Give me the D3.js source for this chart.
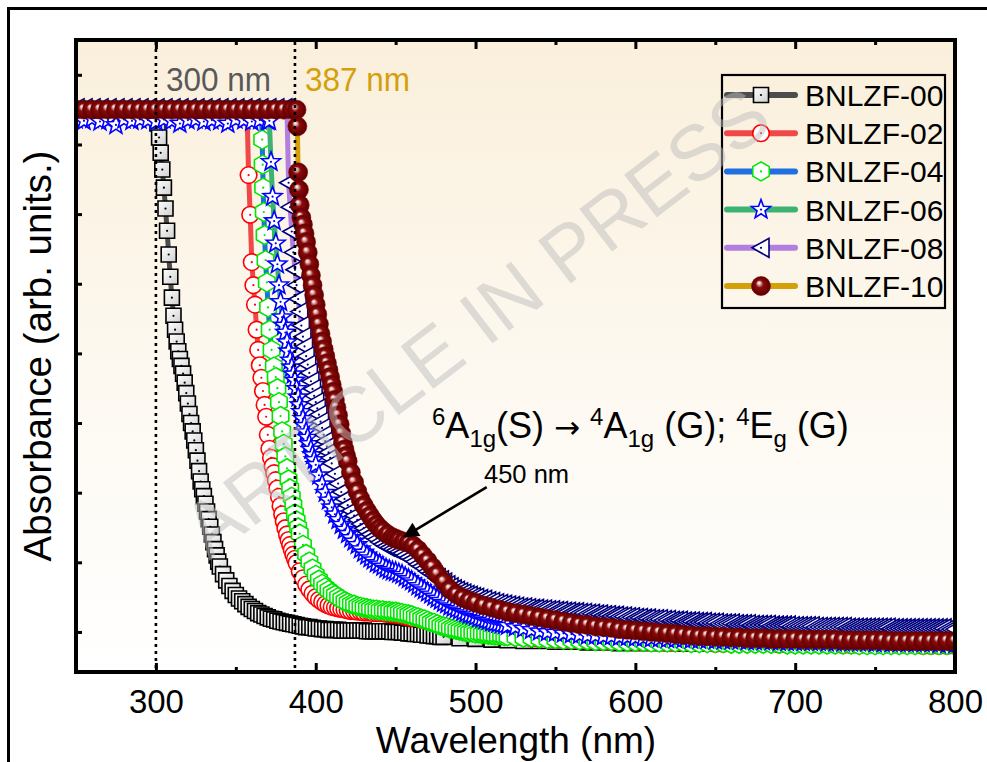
<!DOCTYPE html>
<html>
<head>
<meta charset="utf-8">
<script src="https://cdn.jsdelivr.net/npm/d3@7"></script>
<style>
  body { margin: 0; background: #fff; }
  svg { display: block; font-family: 'Liberation Sans', Arial, sans-serif; }
</style>
</head>
<body>
<svg id="chart" width="987" height="762"></svg>
<script>
'use strict';

// ---- data (wavelength nm, absorbance arb. units) ----
// "Edge" arrays are [nm, A] pairs; "Knee"/"Tail" arrays are A read on a regular nm grid.
var sampleNames = ['BNLZF-00', 'BNLZF-02', 'BNLZF-04', 'BNLZF-06', 'BNLZF-08', 'BNLZF-10'];
var majorTicks = [300, 400, 500, 600, 700, 800];
var minorTicks = [350, 450, 550, 650, 750];
var yTicks = [1, 2, 3, 4, 5, 6, 7, 8, 9];

var bnlzf00Edge = [
    [250,8.5],[255,8.5],[260,8.5],[265,8.5],[270,8.5],[275,8.5],[280,8.5],[285,8.5],[290,8.5],[295,8.5],[299,8.5],
    [300,8.45],[301,8.3],[302,8.1],[303,7.88],[304,7.64],[305,7.38],[306,7.08],[307,6.76],[308,6.42],[309,6.1],
    [310,5.8],[311,5.54],[312,5.34],[313,5.17],[314,5.03],[315,4.92],[316,4.82],[317,4.71],[318,4.58],[319,4.43],
    [320,4.28],[321,4.13],[322,4.0],[323,3.88],[324,3.75],[325,3.61],[326,3.46],[327,3.31],[328,3.16],[329,3.05],
    [330,2.95],[331,2.84],[332,2.73],[333,2.62],[334,2.51],[335,2.4],[336,2.29],[337,2.19],[338,2.1],[339,2.01]
];
var bnlzf00Knee = [ // 340..480 nm, 2 nm
    1.94,1.83,1.74,1.66,1.59,1.53,1.48,1.44,1.40,1.36, 1.33,1.30,1.27,1.25,1.23,1.21,1.19,1.18,1.16,1.15,
    1.14,1.13,1.12,1.11,1.10,1.09,1.08,1.07,1.07,1.06, 1.05,1.05,1.04,1.04,1.03,1.03,1.03,1.03,1.02,1.02,
    1.02,1.02,1.02,1.02,1.02,1.02,1.01,1.01,1.01,1.01, 1.01,1.01,1.01,1.01,1.00,1.00,1.00,0.99,0.99,0.98,
    0.98,0.97,0.97,0.96,0.96,0.95,0.95,0.94,0.94,0.93, 0.93
];
var bnlzf00Tail = [ // 490..800 nm, 10 nm
    0.91,0.90,0.89,0.88,0.87,0.87,0.86,0.86,0.85,0.85, 0.84,0.84,0.84,0.84,0.83,0.83,0.83,0.83,0.83,0.83,
    0.83,0.83,0.82,0.82,0.82,0.82,0.82,0.82,0.82,0.82, 0.82,0.82
];

var bnlzf02Edge = [
    [250,8.5],[255,8.5],[260,8.5],[265,8.5],[270,8.5],[275,8.5],[280,8.5],[285,8.5],[290,8.5],[295,8.5],[300,8.5],
    [305,8.5],[310,8.5],[315,8.5],[320,8.5],[325,8.5],[330,8.5],[335,8.5],[340,8.5],[345,8.5],[350,8.5],[355,8.5],
    [357,8.5],[358,7.56],[359,6.99],[360,6.31],[361,5.98],[362,5.7],[363,5.34],[364,5.05],[365,4.83],[366,4.65],
    [367,4.46],[368,4.26],[369,4.09],[370,3.83],[371,3.63],[372,3.5],[373,3.38],[374,3.28],[375,3.18],[376,3.06],
    [377,2.94],[378,2.81],[379,2.69],[380,2.59],[381,2.49],[382,2.4],[383,2.32],[384,2.25],[385,2.18],[386,2.11],
    [387,2.05],[388,1.99]
];
var bnlzf02Knee = [ // 390..460 nm, 2 nm
    1.87,1.77,1.68,1.61,1.55,1.50,1.46,1.43,1.40,1.38, 1.36,1.35,1.34,1.33,1.32,1.31,1.30,1.30,1.29,1.29,
    1.28,1.28,1.28,1.27,1.27,1.27,1.27,1.26,1.26,1.25, 1.25,1.24,1.23,1.22,1.21,1.20
];
var bnlzf02Tail = [ // 465..800 nm, 5 nm
    1.18,1.15,1.12,1.08,1.05,1.02,1.00,0.98,0.97,0.96, 0.95,0.94,0.93,0.92,0.91,0.90,0.90,0.89,0.89,0.88,
    0.88,0.87,0.87,0.86,0.86,0.86,0.86,0.85,0.85,0.85, 0.85,0.84,0.84,0.84,0.84,0.84,0.84,0.83,0.83,0.83,
    0.83,0.83,0.83,0.83,0.83,0.82,0.82,0.82,0.82,0.82, 0.82,0.82,0.82,0.81,0.81,0.81,0.81,0.81,0.81,0.81,
    0.81,0.81,0.81,0.80,0.80,0.80,0.80,0.80
];

var bnlzf04Edge = [
    [250,8.5],[255,8.5],[260,8.5],[265,8.5],[270,8.5],[275,8.5],[280,8.5],[285,8.5],[290,8.5],[295,8.5],[300,8.5],
    [305,8.5],[310,8.5],[315,8.5],[320,8.5],[325,8.5],[330,8.5],[335,8.5],[340,8.5],[345,8.5],[350,8.5],[355,8.5],
    [360,8.5],[365,8.5],[366,8.5],[366.5,8.07],[366.8,7.71],[367.1,7.38],[367.5,7.03],[368,6.7],[368.6,6.34],
    [369.4,6.02],[370.2,5.66],[371.2,5.34],[372.4,5.05],[373.8,4.81],[375,4.66],[376,4.5],[377,4.3],[378,4.1],
    [379,3.88],[380,3.7],[381,3.52],[382,3.35],[383,3.19],[384,3.06],[385,2.94],[386,2.82],[387,2.7],[388,2.6],
    [389,2.5],[390,2.41]
];
var bnlzf04Knee = [ // 392..520 nm, 2 nm
    2.25,2.12,2.01,1.91,1.82,1.75,1.69,1.64,1.60,1.56, 1.53,1.50,1.47,1.44,1.42,1.40,1.39,1.37,1.36,1.35,
    1.34,1.33,1.32,1.32,1.31,1.31,1.30,1.30,1.29,1.29, 1.28,1.27,1.26,1.25,1.24,1.22,1.21,1.19,1.18,1.16,
    1.14,1.13,1.11,1.09,1.08,1.07,1.05,1.04,1.03,1.02, 1.01,1.00,0.99,0.99,0.98,0.98,0.97,0.97,0.96,0.96,
    0.95,0.95,0.95,0.94,0.94
];
var bnlzf04Tail = [ // 525..800 nm, 5 nm
    0.93,0.92,0.92,0.91,0.90,0.90,0.89,0.89,0.88,0.88, 0.87,0.87,0.87,0.86,0.86,0.86,0.86,0.85,0.85,0.85,
    0.85,0.85,0.84,0.84,0.84,0.84,0.84,0.83,0.83,0.83, 0.83,0.83,0.83,0.83,0.82,0.82,0.82,0.82,0.82,0.82,
    0.82,0.82,0.82,0.81,0.81,0.81,0.81,0.81,0.81,0.81, 0.81,0.81,0.81,0.81,0.81,0.81
];

var bnlzf06Edge = [
    [250,8.36],[255,8.34],[260,8.37],[265,8.33],[270,8.35],[275,8.28],[280,8.36],[285,8.34],[290,8.36],[295,8.35],
    [300,8.33],[305,8.36],[310,8.34],[315,8.3],[320,8.35],[325,8.36],[330,8.33],[335,8.35],[340,8.34],[345,8.3],
    [350,8.36],[355,8.35],[360,8.33],[365,8.35],[370,8.34],[371,8.34],[372,7.75],[373,7.25],[374,6.9],[375,6.58],
    [376,6.28],[377,5.98],[378,5.74],[379,5.52],[380,5.4],[381,5.3],[382,5.16],[383,5.03],[384,4.9],[385,4.8],
    [386,4.7],[387,4.61],[388,4.49],[389,4.37],[390,4.26],[391,4.16],[392,4.06],[393,3.96],[394,3.87],[395,3.79],
    [396,3.7],[397,3.62],[398,3.54],[399,3.47],[400,3.4]
];
var bnlzf06Knee = [ // 402..520 nm, 2 nm
    3.25,3.12,3.00,2.89,2.79,2.69,2.61,2.54,2.47,2.41, 2.35,2.30,2.25,2.19,2.14,2.10,2.06,2.03,1.99,1.97,
    1.94,1.91,1.89,1.87,1.86,1.84,1.82,1.79,1.76,1.73, 1.70,1.66,1.63,1.60,1.57,1.54,1.51,1.48,1.45,1.42,
    1.40,1.37,1.35,1.33,1.31,1.29,1.27,1.25,1.24,1.22, 1.20,1.19,1.17,1.16,1.14,1.13,1.12,1.11,1.10,1.09
];
var bnlzf06Tail = [ // 525..800 nm, 5 nm
    1.07,1.05,1.03,1.01,1.00,0.99,0.98,0.97,0.96,0.95, 0.95,0.94,0.94,0.93,0.93,0.92,0.92,0.91,0.91,0.90,
    0.90,0.90,0.89,0.89,0.89,0.88,0.88,0.88,0.88,0.87, 0.87,0.87,0.87,0.86,0.86,0.86,0.86,0.86,0.86,0.85,
    0.85,0.85,0.85,0.85,0.85,0.84,0.84,0.84,0.84,0.84, 0.84,0.84,0.84,0.83,0.83,0.83
];

var bnlzf08Edge = [
    [250,8.52],[255,8.52],[260,8.52],[265,8.52],[270,8.52],[275,8.52],[280,8.52],[285,8.52],[290,8.52],[295,8.52],
    [300,8.52],[305,8.52],[310,8.52],[315,8.52],[320,8.52],[325,8.52],[330,8.52],[335,8.52],[340,8.52],[345,8.52],
    [350,8.52],[355,8.52],[360,8.52],[365,8.52],[370,8.52],[375,8.52],[380,8.52],[382,8.52],[383,7.45],[384,7.1],
    [385,6.75],[386,6.45],[387,6.2],[388,5.98],[389,5.78],[390,5.6],[391,5.4],[392,5.24],[393,5.1],[394,4.96],
    [395,4.84],[396,4.72],[397,4.6],[398,4.49],[399,4.39],[400,4.3],[401,4.21],[402,4.12],[403,4.02],[404,3.93],
    [405,3.83],[406,3.74],[407,3.66],[408,3.58],[409,3.5],[410,3.42]
];
var bnlzf08Knee = [ // 412..500 nm, 2 nm
    3.27,3.13,3.01,2.91,2.82,2.74,2.67,2.61,2.55,2.49, 2.44,2.40,2.36,2.33,2.29,2.26,2.23,2.21,2.19,2.17,
    2.15,2.13,2.10,2.07,2.04,2.01,1.97,1.94,1.91,1.87, 1.84,1.81,1.77,1.74,1.71,1.67,1.64,1.61,1.59,1.57,
    1.55,1.53,1.52,1.50,1.49
];
var bnlzf08Tail = [ // 502.5..800 nm, 2.5 nm
    1.47,1.46,1.44,1.43,1.41,1.40,1.39,1.38,1.37,1.36, 1.35,1.35,1.34,1.33,1.33,1.32,1.32,1.31,1.31,1.30,
    1.30,1.29,1.29,1.28,1.28,1.27,1.27,1.26,1.26,1.25, 1.25,1.24,1.24,1.23,1.23,1.22,1.22,1.21,1.21,1.20,
    1.20,1.19,1.19,1.18,1.18,1.18,1.17,1.17,1.16,1.16, 1.16,1.15,1.15,1.15,1.14,1.14,1.14,1.13,1.13,1.13,
    1.12,1.12,1.12,1.12,1.11,1.11,1.11,1.11,1.10,1.10, 1.10,1.10,1.10,1.09,1.09,1.09,1.09,1.09,1.08,1.08,
    1.08,1.08,1.08,1.08,1.07,1.07,1.07,1.07,1.07,1.07, 1.07,1.07,1.06,1.06,1.06,1.06,1.06,1.06,1.06,1.06,
    1.06,1.06,1.06,1.05,1.05,1.05,1.05,1.05,1.05,1.05, 1.05,1.05,1.05,1.05,1.05,1.05,1.05,1.04,1.04,1.04
];

var bnlzf10Edge = [
    [250,8.5],[255,8.5],[260,8.5],[265,8.5],[270,8.5],[275,8.5],[280,8.5],[285,8.5],[290,8.5],[295,8.5],[300,8.5],
    [305,8.5],[310,8.5],[315,8.5],[320,8.5],[325,8.5],[330,8.5],[335,8.5],[340,8.5],[345,8.5],[350,8.5],[355,8.5],
    [360,8.5],[365,8.5],[370,8.5],[375,8.5],[380,8.5],[385,8.5],[388,8.5],[388.5,8.26],[389,7.6],[389.5,7.35],
    [390,7.13],[391,6.95],[392,6.85],[393,6.72],[394,6.6],[395,6.45],[396,6.28],[397,6.12],[398,5.98],[399,5.84],
    [400,5.7],[401,5.56],[402,5.42],[403,5.28],[404,5.17],[405,5.06],[406,4.96],[407,4.86],[408,4.76],[409,4.66],
    [410,4.55],[411,4.45],[412,4.33],[413,4.22],[414,4.11],[415,3.98],[416,3.85],[417,3.72],[418,3.62],[419,3.53],
    [420,3.45],[422,3.29],[424,3.15],[426,3.02],[428,2.91],[430,2.82],[432,2.74],[434,2.67],[436,2.6],[438,2.54],
    [440,2.49],[442,2.45],[445,2.4],[448,2.36],[450,2.34],[452,2.32],[455,2.3],[458,2.28],[461,2.24],[464,2.18],
    [467,2.1],[470,2.02],[473,1.93],[476,1.83],[480,1.72],[484,1.61],[488,1.54],[492,1.49],[496,1.45],[500,1.42]
];
var bnlzf10Tail = [ // 505..800 nm, 5 nm
    1.38,1.35,1.32,1.29,1.27,1.25,1.23,1.21,1.19,1.17, 1.15,1.13,1.11,1.10,1.08,1.07,1.06,1.04,1.03,1.02,
    1.01,1.00,0.99,0.98,0.97,0.96,0.95,0.94,0.94,0.93, 0.93,0.92,0.92,0.91,0.91,0.91,0.90,0.90,0.90,0.90,
    0.89,0.89,0.89,0.89,0.89,0.88,0.88,0.88,0.88,0.88, 0.88,0.87,0.87,0.87,0.87,0.87,0.87,0.87,0.87,0.87
];

function onGrid(start, step, values) {
    return values.map(function(v, k) { return [start + step * k, v]; });
}

var seriesData = [
    bnlzf00Edge.concat(onGrid(340, 2, bnlzf00Knee), onGrid(490, 10, bnlzf00Tail)),
    bnlzf02Edge.concat(onGrid(390, 2, bnlzf02Knee), onGrid(465, 5, bnlzf02Tail)),
    bnlzf04Edge.concat(onGrid(392, 2, bnlzf04Knee), onGrid(525, 5, bnlzf04Tail)),
    bnlzf06Edge.concat(onGrid(402, 2, bnlzf06Knee), onGrid(525, 5, bnlzf06Tail)),
    bnlzf08Edge.concat(onGrid(412, 2, bnlzf08Knee), onGrid(502.5, 2.5, bnlzf08Tail)),
    bnlzf10Edge.concat(onGrid(505, 5, bnlzf10Tail))
];

// ---- styles ----
var lineColors = ['#4d4d4d', '#f04848', '#1f6fe0', '#3cb371', '#b27fe0', '#d4a00a'];
var markerColors = ['#000000', '#ff0000', '#00e600', '#0000ff', '#00007f', '#7a0000'];
var markerShapes = ['square', 'circle', 'hexagon', 'star', 'triangle', 'ball'];

var svg = d3.select('#chart');
var x = d3.scaleLinear().domain([250, 800]).range([76, 955]);
var y = d3.scaleLinear().domain([0.425, 9.5]).range([672, 40]);

var defs = svg.append('defs');

var bg = defs.append('linearGradient').attr('id', 'plotBg')
    .attr('x1', 0).attr('y1', 0).attr('x2', 0).attr('y2', 1);
bg.append('stop').attr('offset', '0%').attr('stop-color', '#faefdb');
bg.append('stop').attr('offset', '55%').attr('stop-color', '#fdf9f1');
bg.append('stop').attr('offset', '100%').attr('stop-color', '#ffffff');

var ball = defs.append('radialGradient').attr('id', 'ballGrad')
    .attr('cx', '50%').attr('cy', '50%').attr('r', '50%').attr('fx', '38%').attr('fy', '32%');
ball.append('stop').attr('offset', '0%').attr('stop-color', '#ffffff');
ball.append('stop').attr('offset', '14%').attr('stop-color', '#e6c4c4');
ball.append('stop').attr('offset', '40%').attr('stop-color', '#8e0a0a');
ball.append('stop').attr('offset', '100%').attr('stop-color', '#5a0000');

var sq = defs.append('linearGradient').attr('id', 'squareGrad')
    .attr('x1', 0).attr('y1', 0).attr('x2', 1).attr('y2', 1);
sq.append('stop').attr('offset', '0%').attr('stop-color', '#ffffff');
sq.append('stop').attr('offset', '100%').attr('stop-color', '#cfcfcf');

defs.append('clipPath').attr('id', 'plotClip')
    .append('rect').attr('x', 76).attr('y', 40).attr('width', 879).attr('height', 632);

defs.append('marker').attr('id', 'arrowHead')
    .attr('viewBox', '0 0 10 10').attr('refX', 9).attr('refY', 5)
    .attr('markerWidth', 7).attr('markerHeight', 6).attr('markerUnits', 'strokeWidth')
    .attr('orient', 'auto')
    .append('path').attr('d', 'M0,0L10,5L0,10Z').attr('fill', '#000');

function polygonPath(points) {
    return 'M' + points.map(function(p) { return p[0].toFixed(2) + ',' + p[1].toFixed(2); }).join('L') + 'Z';
}

function shapePath(kind) {
    var pts = [], i, a;
    if(kind === 'square') return 'M-7.5,-7.5H7.5V7.5H-7.5Z';
    if(kind === 'circle') return 'M8.3,0A8.3,8.3 0 1,1 -8.3,0A8.3,8.3 0 1,1 8.3,0Z';
    if(kind === 'ball') return 'M9.5,0A9.5,9.5 0 1,1 -9.5,0A9.5,9.5 0 1,1 9.5,0Z';
    if(kind === 'triangle') return 'M-9,0L8,-9.5L8,9.5Z';
    if(kind === 'hexagon') {
        for(i = 0; i < 6; i++) {
            a = (-90 + 60 * i) * Math.PI / 180;
            pts.push([9.5 * Math.cos(a), 9.5 * Math.sin(a)]);
        }
        return polygonPath(pts);
    }
    // star
    for(i = 0; i < 10; i++) {
        a = (-90 + 36 * i) * Math.PI / 180;
        var r = i % 2 ? 4.2 : 10;
        pts.push([r * Math.cos(a), r * Math.sin(a)]);
    }
    return polygonPath(pts);
}

function drawMarker(sel, i) {
    var kind = markerShapes[i];
    sel.append('path')
        .attr('d', shapePath(kind))
        .attr('fill', kind === 'ball' ? 'url(#ballGrad)' : (kind === 'square' ? 'url(#squareGrad)' : '#ffffff'))
        .attr('stroke', markerColors[i])
        .attr('stroke-width', kind === 'ball' ? 0.6 : 1.6);
    if(kind !== 'ball') {
        sel.append('circle').attr('r', 1.1).attr('fill', markerColors[i]);
    }
}

// ---- frame + background ----
svg.append('rect').attr('x', 8.5).attr('y', 8.5).attr('width', 1000).attr('height', 800)
    .attr('fill', 'none').attr('stroke', '#000').attr('stroke-width', 3);

svg.append('rect').attr('x', 76).attr('y', 40).attr('width', 879).attr('height', 632)
    .attr('fill', 'url(#plotBg)');

// ---- curves ----
var plot = svg.append('g').attr('clip-path', 'url(#plotClip)');
var line = d3.line().x(function(d) { return x(d[0]); }).y(function(d) { return y(d[1]); });

seriesData.forEach(function(data, i) {
    var g = plot.append('g').attr('class', 'series');
    g.append('path').datum(data)
        .attr('d', line)
        .attr('fill', 'none')
        .attr('stroke', lineColors[i])
        .attr('stroke-width', 5)
        .attr('stroke-linejoin', 'round');
    var pts = g.selectAll('g.pt').data(data).join('g')
        .attr('class', 'pt')
        .attr('transform', function(d) { return 'translate(' + x(d[0]) + ',' + y(d[1]) + ')'; });
    drawMarker(pts, i);
});

// ---- dotted guides at 300 nm and 387 nm ----
[300, 387].forEach(function(w) {
    svg.append('line')
        .attr('x1', x(w)).attr('x2', x(w)).attr('y1', 42).attr('y2', 670)
        .attr('stroke', '#000').attr('stroke-width', 2.6).attr('stroke-dasharray', '3,4');
});

// ---- axes ----
function styleAxis(g) {
    g.select('.domain').remove();
    g.selectAll('.tick line').attr('stroke', '#000').attr('stroke-width', 3);
}

svg.append('g').attr('transform', 'translate(0,672)')
    .call(d3.axisBottom(x).tickValues(majorTicks).tickSize(-9).tickSizeOuter(0).tickFormat(d3.format('d')))
    .call(styleAxis)
    .call(function(g) {
        g.selectAll('text')
            .attr('y', 41).attr('dy', null)
            .attr('font-family', "'Liberation Sans', Arial, sans-serif")
            .attr('font-size', 33)
            .attr('fill', '#000');
    });

svg.append('g').attr('transform', 'translate(0,672)')
    .call(d3.axisBottom(x).tickValues(minorTicks).tickSize(-5).tickFormat(''))
    .call(styleAxis);

svg.append('g').attr('transform', 'translate(0,40)')
    .call(d3.axisTop(x).tickValues(majorTicks).tickSize(-9).tickFormat(''))
    .call(styleAxis);

svg.append('g').attr('transform', 'translate(0,40)')
    .call(d3.axisTop(x).tickValues(minorTicks).tickSize(-5).tickFormat(''))
    .call(styleAxis);

svg.append('g').attr('transform', 'translate(76,0)')
    .call(d3.axisLeft(y).tickValues(yTicks).tickSize(-6).tickFormat(''))
    .call(styleAxis);

svg.append('rect').attr('x', 76).attr('y', 40).attr('width', 879).attr('height', 632)
    .attr('fill', 'none').attr('stroke', '#000').attr('stroke-width', 4);

// ---- axis titles ----
svg.append('text')
    .attr('x', 516).attr('y', 753)
    .attr('text-anchor', 'middle')
    .attr('font-size', 37)
    .text('Wavelength (nm)');

svg.append('text')
    .attr('transform', 'translate(51,356) rotate(-90)')
    .attr('text-anchor', 'middle')
    .attr('font-size', 38.5)
    .text('Absorbance (arb. units.)');

// ---- guide labels ----
svg.append('text')
    .attr('x', x(300) + 10).attr('y', 91)
    .attr('font-size', 33).attr('fill', '#595959')
    .attr('textLength', 105).attr('lengthAdjust', 'spacingAndGlyphs')
    .text('300 nm');

svg.append('text')
    .attr('x', x(387) + 10).attr('y', 91)
    .attr('font-size', 33).attr('fill', '#d4a00a')
    .attr('textLength', 105).attr('lengthAdjust', 'spacingAndGlyphs')
    .text('387 nm');

// ---- transition annotation ----
var trans = svg.append('text').attr('x', 432).attr('y', 438).attr('font-size', 36);
var parts = [
    ['6', 'sup'], ['A', ''], ['1g', 'sub'], ['(S) ', ''], ['\u2192', 'arrow'], [' ', ''],
    ['4', 'sup'], ['A', ''], ['1g', 'sub'], [' (G); ', ''],
    ['4', 'sup'], ['E', ''], ['g', 'sub'], [' (G)', '']
];
var shift = 0;
parts.forEach(function(p) {
    var target = p[1] === 'sup' ? -13 : (p[1] === 'sub' ? 9 : 0);
    var ts = trans.append('tspan')
        .attr('dy', target - shift)
        .attr('font-size', (p[1] === 'sup' || p[1] === 'sub') ? 24 : 36)
        .text(p[0]);
    if(p[1] === 'arrow') ts.attr('font-family', "'DejaVu Sans', sans-serif").attr('font-size', 31);
    shift = target;
});

svg.append('text')
    .attr('x', 484).attr('y', 483)
    .attr('font-size', 25.5)
    .text('450 nm');

svg.append('line')
    .attr('x1', x(507)).attr('y1', y(3.08))
    .attr('x2', x(455.5)).attr('y2', y(2.37))
    .attr('stroke', '#000').attr('stroke-width', 2.6)
    .attr('marker-end', 'url(#arrowHead)');

// ---- legend ----
var legend = svg.append('g');
legend.append('rect').attr('x', 722).attr('y', 75).attr('width', 223).attr('height', 233)
    .attr('fill', 'none').attr('stroke', '#000').attr('stroke-width', 2.2);

sampleNames.forEach(function(name, i) {
    var ry = 95 + 38.2 * i;
    legend.append('line')
        .attr('x1', 727).attr('x2', 795).attr('y1', ry).attr('y2', ry)
        .attr('stroke', lineColors[i]).attr('stroke-width', 6).attr('stroke-linecap', 'round');
    var m = legend.append('g').attr('transform', 'translate(761,' + ry + ')');
    drawMarker(m, i);
    legend.append('text')
        .attr('x', 805).attr('y', ry + 11)
        .attr('font-size', 30)
        .text(name);
});

// ---- watermark ----
svg.append('text')
    .attr('transform', 'translate(476,322) rotate(-37.5)')
    .attr('y', 27)
    .attr('text-anchor', 'middle')
    .attr('font-size', 78)
    .attr('fill', '#bdbdbd')
    .attr('fill-opacity', 0.5)
    .text('ARTICLE IN PRESS');
</script>
</body>
</html>
